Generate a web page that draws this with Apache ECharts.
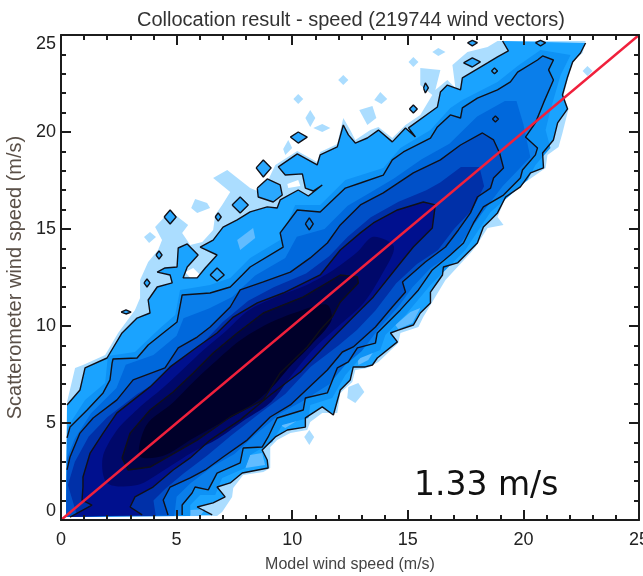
<!DOCTYPE html>
<html>
<head>
<meta charset="utf-8">
<script src="https://cdn.jsdelivr.net/npm/echarts@6/dist/echarts.min.js"></script>
<style>
  html, body { margin: 0; padding: 0; background: #fff; overflow: hidden; }
  #wrap { position: relative; width: 643px; height: 576px; }
  #chart { width: 643px; height: 576px; filter: blur(0.6px); }
  #rmse { position: absolute; left: 414px; top: 464px; font: 33px "DejaVu Sans", sans-serif; color: #111; white-space: nowrap; }
</style>
</head>
<body>
<div id="wrap">
  <div id="chart"></div>
  <div id="rmse">1.33 m/s</div>
</div>
<script>
// axes
var xTicks = [0, 5, 10, 15, 20, 25];
var yTicks = [0, 5, 10, 15, 20, 25];
var diagonal = [[0, 0], [25, 25]];
var gridCorner = [0.22, 0.17];

// outer light fringe (m/s, m/s)
var fringeUpper = [[.26,6.08],[.61,7.84],[.95,7.99],[1.91,8.51],[2.47,9.64],[3.2,10.83],[3.42,11.44],[3.42,12.37],[3.77,13.3],[4.2,13.92],[4.37,14.43],[4.07,15.1],[4.72,15.93],[5.5,15.21],[5.24,14.8],[5.59,14.18],[6.11,14.33],[6.58,14.95],[6.67,15.72],[6.97,16.24],[7.32,16.91],[6.58,17.63],[7.19,18.04],[8.18,17.11],[8.7,16.86],[8.96,17.53],[9.27,18.3],[10.22,19.02],[11.08,18.46],[11.21,18.97],[11.95,19.38],[12.21,20.72],[12.51,20.1],[12.73,19.59],[13.38,20.1],[13.73,20.26],[14.33,19.69],[14.9,20.36],[15.54,20.88],[16.06,21.91],[15.54,22.42],[15.54,23.3],[16.41,23.2],[16.19,22.17],[16.71,22.68],[17.06,22.27],[16.93,23.46],[17.58,24.13],[18.45,24.38],[18.88,24.69]];
var fringeLower = [[22.69,24.69],[22.56,24.07],[22.17,23.71],[21.95,22.84],[21.74,21.91],[21.95,21.19],[21.69,19.95],[21.52,19.23],[21.04,18.82],[20.96,18.15],[20.22,17.53],[19.31,16.86],[18.88,15.62],[19.14,15.21],[18.45,15.05],[17.93,14.07],[17.71,13.76],[17.15,13.04],[16.63,12.37],[16.11,11.34],[15.67,10.46],[15.46,9.95],[14.68,9.64],[14.59,9.12],[13.73,8.15],[13.25,7.84],[12.73,7.73],[12.6,7.11],[12.08,6.55],[11.95,5.52],[11.3,5.52],[10.78,5.05],[10.65,4.64],[9.92,4.48],[9.35,4.12],[9.05,3.76],[9.05,2.68],[8.75,2.47],[7.88,2.32],[7.45,1.65],[7.4,1.19],[6.97,.41],[6.75,.21]];

// contour lines, outermost to innermost
var contourAUpper = [[.26,5.93],[.82,6.7],[1.04,7.84],[1.99,8.35],[2.64,9.64],[3.29,10.41],[3.85,10.67],[3.77,11.34],[4.16,12.01],[4.81,12.22],[4.72,12.63],[4.16,12.78],[4.5,12.99],[5.02,13.04],[5.07,14.02],[5.46,14.23],[5.93,13.66],[5.46,13.04],[5.28,12.48],[5.89,12.48],[6.24,12.99],[6.75,13.66],[6.02,14.07],[6.58,14.43],[7.01,15.1],[7.62,15.47],[8.18,15.88],[8.92,16.14],[9.35,16.08],[9.48,16.5],[10.26,17.01],[10.7,16.7],[11.3,17.27],[10.91,16.96],[10.57,17.11],[10.44,17.84],[9.7,17.78],[9.4,18.2],[10.22,18.87],[11.08,18.3],[11.21,18.82],[11.95,19.23],[12.21,20.36],[12.43,19.85],[12.73,19.43],[13.25,19.69],[13.73,20.1],[14.33,19.49],[14.9,20.21],[15.33,19.74],[15.03,20.21],[16.28,21.29],[16.41,22.06],[16.71,22.42],[17.28,22.17],[17.36,22.79],[18.45,23.56],[18.88,23.87],[19.35,24.18],[19.1,24.69]];
var contourALower = [[22.69,24.59],[22.47,24.07],[22.13,23.61],[21.91,22.84],[21.69,21.91],[21.91,21.19],[21.48,20.47],[21.3,19.59],[20.83,18.92],[20.87,18.15],[20.31,17.89],[19.87,17.17],[19.23,16.65],[18.88,15.83],[18.58,15.47],[18.27,15.1],[18.01,14.28],[17.71,13.92],[17.15,13.25],[16.54,13.04],[16.5,12.63],[15.98,11.75],[15.98,11.19],[15.54,10.67],[15.24,10.05],[14.59,9.79],[14.25,9.64],[14.55,9.18],[13.68,8.35],[13.47,7.99],[13.16,7.89],[12.64,7.89],[12.51,7.22],[12.08,6.7],[11.78,5.41],[11.3,5.83],[10.57,5.26],[10.57,4.79],[9.79,4.64],[9.27,4.28],[8.7,3.61],[8.92,3.09],[8.96,2.68],[7.84,2.42],[7.32,1.91],[6.75,1.7],[7.1,1.19],[6.58,.88],[5.89,.67],[6.54,.26]];
var contourB = [[.26,4.23],[.39,4.79],[1.13,5.67],[1.82,6.55],[2.12,7.22],[2.21,8.09],[2.25,8.3],[3.29,8.35],[3.77,9.02],[4.42,9.64],[5.02,10.21],[5.24,11.6],[6.45,11.7],[7.32,12.01],[7.84,12.63],[8.18,13.04],[9.61,14.07],[9.48,14.8],[10.22,15.98],[11.21,15.88],[12.3,17.11],[12.95,17.37],[13.94,17.78],[14.33,18.56],[14.81,18.97],[15.98,19.69],[16.28,20.26],[16.84,20.88],[17.28,20.72],[17.36,21.24],[18.01,21.75],[18.88,22.17],[19.44,22.58],[19.75,23.09],[20.61,23.71],[20.83,23.92],[21.3,23.71],[21.09,23.2],[21.3,22.68],[20.87,21.5],[20.52,20.47],[20.09,19.74],[20.61,19.18],[20.52,18.82],[19.96,18.04],[19.87,17.63],[19.14,16.75],[18.27,16.14],[17.84,15.31],[17.41,14.28],[16.84,13.66],[16.06,12.89],[15.46,11.86],[14.68,10.83],[13.68,9.64],[13.6,9.12],[12.82,8.87],[12.43,8.15],[11.95,7.84],[11.52,6.55],[10.57,6.29],[10.48,5.67],[9.35,5.26],[8.96,4.28],[8.7,3.76],[7.88,3.71],[7.75,2.94],[6.75,2.42],[6.37,1.55],[5.8,1.7],[5.67,1.39],[5.24,.77],[5.24,.26]];
var contourC = [[.26,2.58],[.39,3.25],[.82,4.48],[1.39,5.26],[2.42,6.19],[3.12,7.22],[4.5,7.84],[5.07,8.87],[5.89,9.43],[6.45,9.95],[7.32,10.98],[7.75,11.86],[8.75,12.27],[9.92,12.78],[10.78,13.51],[11.52,14.28],[12.08,15.21],[12.95,16.24],[13.94,16.86],[15.24,17.89],[16.41,18.56],[17.28,19.33],[18.23,19.95],[18.71,19.59],[18.97,18.92],[19.14,18.15],[18.71,17.63],[18.58,17.11],[18.01,16.65],[17.71,15.83],[17.19,14.95],[16.63,14.07],[15.76,13.3],[14.77,12.27],[14.9,11.75],[14.33,10.98],[13.6,9.95],[12.64,8.92],[12.17,8.66],[11.52,7.73],[9.92,5.93],[9.05,5.31],[8.05,4.12],[7.01,3.25],[6.24,2.58],[5.59,2.17],[4.72,1.7],[4.42,1.03],[4.63,.26]];
var contourD = [[.39,.15],[1.34,.77],[.91,1.03],[.95,1.7],[.95,2.22],[1.26,3.45],[1.82,4.48],[2.42,5.52],[3.85,6.86],[4.72,7.89],[5.89,8.92],[6.75,9.64],[7.45,10.46],[8.49,11.19],[9.61,11.7],[11.21,12.63],[12.08,13.92],[12.95,14.8],[13.51,15.31],[14.55,15.98],[15.67,16.39],[16.19,16.24],[16.06,15.05],[15.24,14.07],[14.68,13.25],[13.51,11.5],[12.64,10.46],[11.65,9.28],[10.35,7.63],[9.05,6.44],[7.75,5.16],[6.45,4.12],[5.59,3.2],[4.85,2.58],[3.98,1.7],[3.2,1.19],[2.99,.67],[3.51,.26]];
var contourE = [[2.64,3.2],[2.99,4.48],[3.85,5.67],[4.85,6.6],[5.72,7.58],[6.58,8.61],[7.62,9.64],[8.75,10.67],[10.48,11.5],[12.08,12.63],[12.82,12.53],[12.86,12.22],[12.08,11.24],[11.73,10.46],[11.21,9.79],[10.65,8.92],[9.48,7.58],[8.75,6.19],[7.32,5.31],[5.89,4.12],[3.85,2.73],[2.9,2.58],[2.64,3.2]];

// shading boundaries between the contour lines
var bandA = [[.26,4.74],[1.04,6.19],[1.91,7.06],[2.03,8.45],[3.2,8.66],[4.29,9.9],[4.94,10.57],[5.15,11.86],[6.45,12.11],[7.32,12.48],[8.18,13.51],[9.48,14.43],[10.13,16.24],[11.21,16.24],[12.3,17.53],[13.94,18.15],[14.68,19.18],[15.98,20.1],[16.84,21.24],[17.36,21.65],[18.88,22.58],[19.75,23.4],[20.74,24.23],[22.04,23.97],[21.61,22.94],[21.17,21.14],[20.96,20.1],[21.17,19.18],[20.52,18.3],[20.18,17.53],[19.44,16.75],[18.58,15.88],[18.06,14.95],[17.49,13.92],[16.63,12.89],[15.98,12.11],[14.9,10.57],[14.03,9.54],[13.81,8.76],[12.95,8.35],[12.3,7.47],[11.73,6.29],[10.78,5.93],[10.7,5.26],[9.57,4.9],[9.14,4.02],[8.18,3.35],[7.97,2.68],[6.97,2.17],[6.67,1.29],[6.02,1.29],[5.59,.77],[5.59,.21]];
var bandB = [[.26,3.2],[.6,4.2],[1.3,5.5],[2.4,6.8],[2.8,8],[4,8.5],[5,9.5],[5.3,10.4],[6.4,10.9],[7.4,11.5],[8.4,12.6],[9.7,13.5],[10.2,14.6],[11.4,15],[12.4,16.2],[13.4,16.9],[14.4,17.6],[15.6,18.6],[16.8,19.4],[18,20.8],[19.2,21.6],[19.7,21.6],[20,20.4],[20.3,18.7],[19.1,17.2],[18.2,15.8],[17.6,14.8],[17,13.8],[16,13],[15.2,12],[14.6,11],[13.7,9.8],[13,8.7],[12.3,8],[11.6,7],[10.4,6.1],[9.5,5.5],[8.5,4.5],[7.5,3.4],[6.6,2.8],[5.6,1.9],[5,1.2],[4.9,.2]];
var bandC = [[.3,1.8],[.6,3],[1.2,4.3],[2,5.3],[3.3,6.5],[4.4,7.3],[5.5,8.5],[6.2,9.2],[7,10.2],[8.1,11.3],[9.2,12],[10.6,12.7],[11.6,13.6],[12.4,14.6],[13.4,15.6],[14.6,16.4],[15.8,17],[16.4,17.4],[17.3,18.2],[18.1,18.2],[18.3,17.2],[17.8,16],[17,15],[16.3,13.9],[15.4,13.2],[14.5,12.2],[13.6,10.8],[12.8,9.8],[12,9],[10.8,7.9],[9.7,6.5],[8.6,5.5],[7.4,4.4],[6.3,3.3],[5.3,2.4],[4.5,1.6],[4,1],[4.1,.2],[.7,.2]];
var bandD = [[2,1.9],[1.8,3.2],[2.4,4.6],[3.3,5.7],[4.4,6.8],[5.3,7.8],[6.2,8.8],[7.1,9.7],[8.1,10.8],[9.3,11.5],[10.6,12.1],[11.8,12.9],[12.8,13.8],[13.5,14.6],[14.4,14.1],[13.9,12.7],[13.1,11.2],[12.1,10.1],[11,8.9],[10,7.5],[9.1,6.1],[8,5.2],[6.8,4.2],[5.7,3.5],[4.5,2.6],[3.3,1.8]];
var bandE = [[3.4,3.3],[3.7,4.9],[4.8,6],[5.8,7.2],[6.8,8.3],[7.8,9.3],[9.1,10.2],[10.4,10.8],[11.5,11.1],[11.7,10.3],[10.8,9],[9.9,7.9],[9.1,6.8],[8.1,5.8],[6.9,5],[5.7,4.2],[4.4,3.3]];

// isolated patches
var fringeIslands = [
  [[11.99,22.68],[12.21,22.94],[12.43,22.68],[12.21,22.42]],
  [[10.05,21.7],[10.26,21.96],[10.48,21.7],[10.26,21.44]],
  [[10.57,20.72],[10.78,21.14],[11,20.72],[10.78,20.26]],
  [[10.91,20.21],[11.3,20.41],[11.65,20.21],[11.3,20]],
  [[9.61,19.13],[9.83,19.59],[10,19.18],[9.7,18.82]],
  [[3.59,14.59],[3.85,14.85],[4.11,14.59],[3.81,14.28]],
  [[5.63,16.08],[5.8,16.55],[6.32,16.34],[6.45,16.08],[5.89,15.83]],
  [[16.06,24.13],[16.32,24.33],[16.63,24.13],[16.32,23.92]],
  [[15.03,23.61],[15.24,23.87],[15.46,23.61],[15.24,23.35]],
  [[13.55,21.65],[13.81,22.06],[14.11,21.7],[13.86,21.44]],
  [[12.9,21.14],[13.47,21.34],[13.64,20.72],[13.25,20.36]],
  [[22.56,23.15],[22.77,23.4],[22.99,23.15],[22.77,22.89]],
  [[12.43,6.86],[12.86,7.06],[13.12,6.6],[12.73,6.03],[12.38,6.29]],
  [[10.52,4.28],[10.74,4.64],[10.95,4.28],[10.74,3.87]]
];
var fringeHoles = [
  [[5.37,12.78],[5.72,12.99],[6.02,12.63],[5.67,12.37]],
  [[5.41,14.69],[5.72,15.05],[5.98,14.69],[5.72,14.33]],
  [[9.79,17.32],[10.26,17.53],[10.35,17.22],[9.83,17.11]]
];
var lightPatches = [
  [[14.46,10.05],[15.11,10.72],[15.54,10.93],[15.2,10.15],[14.59,9.84]],
  [[12.82,8.51],[13.51,8.66],[13.29,8.25],[12.86,7.99]],
  [[9.48,4.9],[10.26,5.16],[9.7,4.74]],
  [[8.18,3.35],[8.7,3.45],[8.83,2.84],[7.97,2.68]],
  [[5.59,.52],[6.24,.57],[6.02,.21],[5.59,.21]],
  [[7.62,14.43],[8.31,15.05],[8.4,14.54],[7.75,13.92]]
];
var contourRings = [
  [[9.92,19.74],[10.26,20],[10.65,19.74],[10.26,19.43]],
  [[8.44,18.15],[8.75,18.56],[9.09,18.15],[8.75,17.68]],
  [[8.49,17.11],[8.92,17.58],[9.48,17.27],[9.57,16.75],[9.18,16.39],[8.53,16.65]],
  [[7.4,16.24],[7.75,16.65],[8.1,16.24],[7.75,15.83]],
  [[6.67,15.62],[6.8,15.83],[6.93,15.62],[6.8,15.41]],
  [[4.46,15.62],[4.72,15.98],[4.98,15.62],[4.72,15.26]],
  [[4.11,13.66],[4.24,13.87],[4.37,13.66],[4.24,13.45]],
  [[2.6,10.72],[2.81,10.83],[3.03,10.72],[2.81,10.62]],
  [[3.59,12.22],[3.72,12.42],[3.85,12.22],[3.72,12.01]],
  [[6.45,12.63],[6.75,12.99],[7.06,12.63],[6.75,12.32]],
  [[17.41,23.56],[17.79,23.82],[18.14,23.61],[17.79,23.35]],
  [[15.07,21.19],[15.24,21.39],[15.41,21.19],[15.24,20.98]],
  [[15.68,22.27],[15.76,22.53],[15.89,22.27],[15.76,22.01]],
  [[17.58,24.6],[17.79,24.72],[18.01,24.6],[17.79,24.44]],
  [[20.52,24.6],[20.74,24.72],[20.96,24.6],[20.74,24.44]],
  [[18.62,23.15],[18.75,23.3],[18.88,23.15],[18.75,23]],
  [[18.66,20.67],[18.79,20.82],[18.92,20.67],[18.79,20.52]],
  [[10.57,15.26],[10.74,15.57],[10.91,15.26],[10.74,14.95]]
];

var labelFont = '"Liberation Sans", sans-serif';
var inkColor = '#1c1c1c';

function fillSeries(points, color, smooth) {
  return {
    type: 'custom',
    xAxisIndex: 0,
    yAxisIndex: 0,
    silent: true,
    data: points,
    encode: { x: 0, y: 1 },
    renderItem: function (params, api) {
      if (params.dataIndex !== 0) return null;
      return {
        type: 'polygon',
        shape: { points: points.map(function (p) { return api.coord(p); }), smooth: smooth || 0 },
        style: { fill: color }
      };
    }
  };
}

function contourSeries(points) {
  return {
    type: 'line',
    xAxisIndex: 0,
    yAxisIndex: 0,
    silent: true,
    symbol: 'none',
    z: 5,
    data: points,
    lineStyle: { color: '#101018', width: 1.4 }
  };
}

var contourAFill = contourAUpper.concat(contourALower, [gridCorner]);
var fringeFill = fringeUpper.concat(fringeLower, [gridCorner]);

var series = [];
series.push(fillSeries(fringeFill, '#ABDDFF'));
fringeIslands.forEach(function (p) { series.push(fillSeries(p, '#ABDDFF')); });
fringeHoles.forEach(function (p) { series.push(fillSeries(p, '#FFFFFF')); });
series.push(fillSeries(contourAFill, '#1AA3FF'));
lightPatches.forEach(function (p) { series.push(fillSeries(p, '#62BCFF')); });
contourRings.forEach(function (p) { series.push(fillSeries(p, '#2AA8FF')); });
series.push(fillSeries(bandA.concat([gridCorner]), '#0E92F5'));
series.push(fillSeries(contourB.concat([gridCorner]), '#0A7EEA'));
series.push(fillSeries(bandB.concat([gridCorner]), '#0068DC'));
series.push(fillSeries(contourC.concat([gridCorner]), '#0050C8'));
series.push(fillSeries(bandC, '#0030A8'));
series.push(fillSeries(contourD, '#00108E'));
series.push(fillSeries(bandD, '#00086A', 0.3));
series.push(fillSeries(contourE, '#000448'));
series.push(fillSeries(bandE, '#00002A', 0.3));

[contourAUpper, contourALower, contourB, contourC, contourD, contourE].forEach(function (p) {
  series.push(contourSeries(p));
});
contourRings.forEach(function (p) { series.push(contourSeries(p.concat([p[0]]))); });

series.push({
  type: 'line',
  xAxisIndex: 0,
  yAxisIndex: 0,
  silent: true,
  symbol: 'none',
  z: 6,
  data: diagonal,
  lineStyle: { color: '#F0203C', width: 2.4 }
});

function boxAxis(position, ticks, labelled, extra) {
  var axis = {
    type: 'value',
    position: position,
    min: ticks[0],
    max: ticks[ticks.length - 1],
    interval: ticks[1] - ticks[0],
    splitLine: { show: false },
    axisLine: { onZero: false, lineStyle: { color: inkColor, width: 2 } },
    axisTick: { inside: true, length: 10, lineStyle: { color: inkColor, width: 2 } },
    minorTick: { show: true, splitNumber: 5, length: 5, lineStyle: { color: inkColor, width: 2 } },
    axisLabel: { show: labelled, color: '#222', fontFamily: labelFont, fontSize: 18, margin: 5 },
    z: 8
  };
  return Object.assign(axis, extra);
}

var charts = echarts.init(document.getElementById('chart'));
charts.setOption({
  animation: false,
  backgroundColor: '#fff',
  title: {
    text: 'Collocation result - speed (219744 wind vectors)',
    left: 346,
    top: 5,
    textAlign: 'center',
    textStyle: { color: '#333', fontFamily: labelFont, fontWeight: 'normal', fontSize: 20 }
  },
  grid: { left: 61, top: 35, width: 578, height: 485, outerBoundsMode: 'none' },
  xAxis: [
    boxAxis('bottom', xTicks, true, {
      name: 'Model wind speed (m/s)',
      nameLocation: 'middle',
      nameGap: 37,
      nameTextStyle: { color: '#444', fontFamily: labelFont, fontSize: 16 }
    }),
    boxAxis('top', xTicks, false, {})
  ],
  yAxis: [
    boxAxis('left', yTicks, true, {
      name: 'Scatterometer wind speed (m/s)',
      nameLocation: 'middle',
      nameGap: 33,
      nameTextStyle: { color: '#5a5048', fontFamily: labelFont, fontSize: 20 }
    }),
    boxAxis('right', yTicks, false, {})
  ],
  series: series
});
charts.setOption({
  xAxis: [{ axisLabel: { margin: 11 } }],
  yAxis: [{ axisLabel: { verticalAlignMinLabel: 'bottom', verticalAlignMaxLabel: 'top' } }]
});
</script>
</body>
</html>
